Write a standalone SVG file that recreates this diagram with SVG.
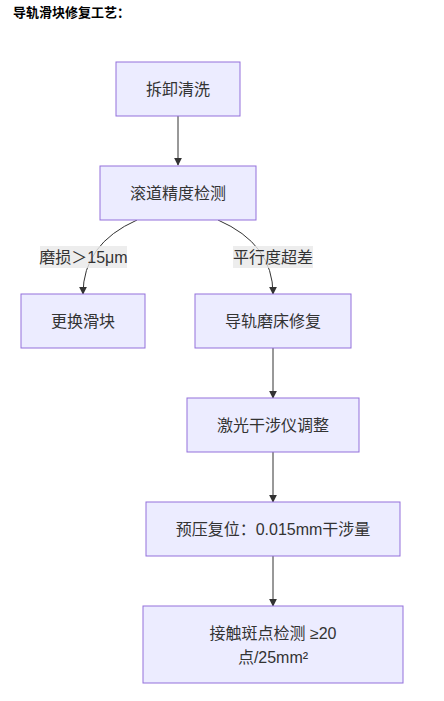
<svg xmlns="http://www.w3.org/2000/svg" width="444" height="701" viewBox="0 0 444 701">
<defs>
<style>
.node text,.lbl text{font-family:"Liberation Sans","Noto Sans CJK SC",sans-serif;font-size:16px;fill:#333;text-anchor:middle;dominant-baseline:central;}
.node rect{fill:#ECECFF;stroke:#9370DB;stroke-width:1px;}
.edge{fill:none;stroke:#333;stroke-width:1px;marker-end:url(#arrow);}
.lbl rect{fill:#e8e8e8;fill-opacity:0.8;}
.title{font-family:"Liberation Sans","Noto Sans CJK SC",sans-serif;font-size:13px;font-weight:bold;fill:#000;}
</style>
<marker id="arrow" viewBox="0 0 10 10" refX="9" refY="5" markerWidth="8" markerHeight="8" markerUnits="userSpaceOnUse" orient="auto">
<path d="M0,0 L10,5 L0,10 z" fill="#333"/>
</marker>
</defs>
<rect width="444" height="701" fill="#fff"/>
<text class="title" x="13" y="17">导轨滑块修复工艺：</text>
<g id="connectors">
<path class="edge" d="M178,116 L178,165"/>
<path class="edge" d="M137,220 Q83,244 83,294"/>
<path class="edge" d="M218,220 Q273,244 273,294"/>
<path class="edge" d="M273,348 L273,398"/>
<path class="edge" d="M273,452 L273,502"/>
<path class="edge" d="M273,556 L273,606"/>
</g>
<g id="label1" class="lbl"><rect x="40" y="246" width="87" height="22"/><text x="83.5" y="257">磨损＞15μm</text></g>
<g id="label2" class="lbl"><rect x="233" y="246" width="80" height="22"/><text x="273" y="257">平行度超差</text></g>
<g id="n1" class="node"><rect x="116" y="62" width="124" height="54"/><text x="178" y="89">拆卸清洗</text></g>
<g id="n2" class="node"><rect x="100" y="166" width="156" height="54"/><text x="178" y="193">滚道精度检测</text></g>
<g id="n3" class="node"><rect x="21" y="294" width="124" height="54"/><text x="83" y="321">更换滑块</text></g>
<g id="n4" class="node"><rect x="195" y="294" width="156" height="54"/><text x="273" y="321">导轨磨床修复</text></g>
<g id="n5" class="node"><rect x="187" y="398" width="172" height="54"/><text x="273" y="425">激光干涉仪调整</text></g>
<g id="n6" class="node"><rect x="146" y="502" width="254" height="54"/><text x="273" y="529">预压复位：0.015mm干涉量</text></g>
<g id="n7" class="node"><rect x="143" y="606" width="260" height="77"/><text x="273" y="633">接触斑点检测 ≥20</text><text x="273" y="657">点/25mm²</text></g>
</svg>
